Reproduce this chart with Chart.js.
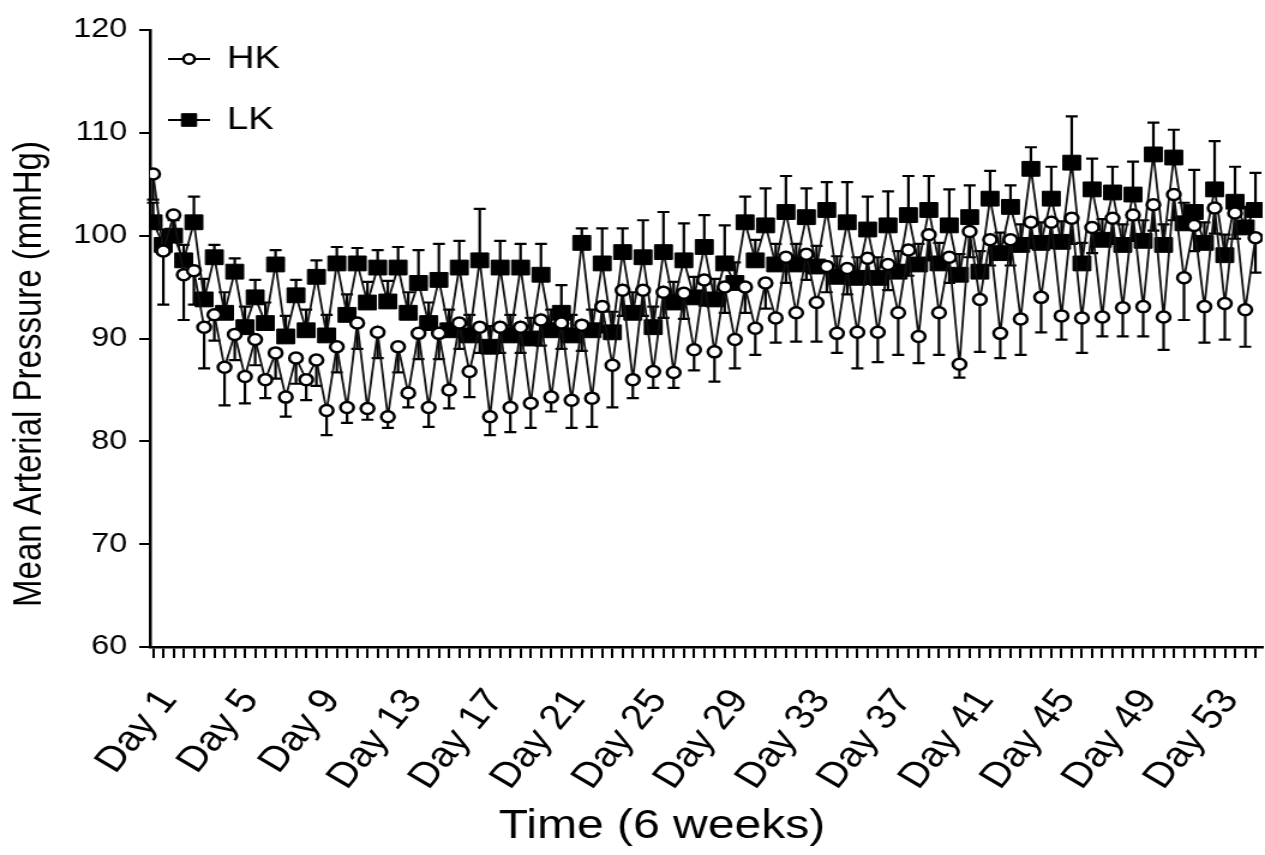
<!DOCTYPE html>
<html>
<head>
<meta charset="utf-8">
<title>Mean Arterial Pressure</title>
<script src="https://cdn.jsdelivr.net/npm/chart.js@4.4.1/dist/chart.umd.min.js"></script>
<style>
    html, body { margin: 0; padding: 0; background: #fff; }
    /* the source figure is stretched sideways, so the canvas is drawn narrow and widened by css */
    #mapChart { display: block; width: 1265px !important; height: 855px !important; }
</style>
</head>
<body>
<canvas id="mapChart" width="1054" height="855" style="width:1265px;height:855px"></canvas>
<script>
// two readings per day (dark / light phase), index 0 = Day 1
const labelDays = [1, 5, 9, 13, 17, 21, 25, 29, 33, 37, 41, 45, 49, 53];
const seriesNames = ['HK', 'LK'];
const xTitle = 'Time (6 weeks)';
const yTitle = 'Mean Arterial Pressure (mmHg)';
const yTicks = [60, 70, 80, 90, 100, 110, 120];

const hkMean = [
    106.0, 98.5, 102.0, 96.2, 96.6, 91.1, 92.3, 87.2, 90.4, 86.3,
    89.9, 86.0, 88.6, 84.3, 88.1, 86.0, 87.9, 83.0, 89.2, 83.3,
    91.5, 83.2, 90.6, 82.4, 89.2, 84.7, 90.5, 83.3, 90.5, 85.0,
    91.5, 86.8, 91.1, 82.4, 91.1, 83.3, 91.1, 83.7, 91.8, 84.3,
    91.5, 84.0, 91.3, 84.2, 93.1, 87.4, 94.7, 86.0, 94.7, 86.8,
    94.5, 86.7, 94.4, 88.9, 95.7, 88.7, 95.0, 89.9, 95.0, 91.0,
    95.4, 92.0, 97.9, 92.5, 98.2, 93.5, 97.0, 90.5, 96.8, 90.6,
    97.8, 90.6, 97.2, 92.5, 98.6, 90.2, 100.1, 92.5, 97.9, 87.5,
    100.4, 93.8, 99.6, 90.5, 99.6, 91.9, 101.3, 94.0, 101.3, 92.2,
    101.7, 92.0, 100.8, 92.1, 101.7, 93.0, 102.0, 93.1, 103.0, 92.1,
    104.0, 95.9, 101.0, 93.1, 102.7, 93.4, 102.2, 92.8, 99.8
];
const hkSem = [
    2.5, 5.2, 2.5, 4.4, 3.3, 4.0, 2.5, 3.7, 2.5, 2.6,
    2.5, 1.8, 2.5, 1.9, 2.5, 2.0, 2.5, 2.4, 2.5, 1.5,
    2.5, 1.1, 2.5, 1.1, 2.5, 1.4, 2.5, 1.9, 2.5, 1.8,
    2.5, 2.5, 2.5, 1.8, 2.5, 2.4, 2.5, 2.4, 2.5, 1.4,
    2.5, 2.7, 2.5, 2.8, 2.5, 4.1, 2.5, 1.8, 2.5, 1.6,
    2.5, 1.5, 2.5, 2.0, 2.5, 2.9, 2.5, 2.8, 2.5, 2.6,
    2.5, 2.4, 2.5, 2.8, 2.5, 3.8, 2.5, 1.9, 2.5, 3.5,
    2.5, 2.9, 2.5, 4.1, 2.5, 2.6, 2.5, 4.1, 2.5, 1.3,
    2.5, 5.1, 2.5, 2.4, 2.5, 3.5, 2.5, 3.4, 2.5, 2.3,
    2.5, 3.4, 2.5, 1.9, 2.5, 2.8, 2.5, 2.9, 2.5, 3.2,
    2.5, 4.1, 2.5, 3.5, 2.5, 3.5, 2.5, 3.6, 3.4
];
const lkMean = [
    101.3, 99.1, 100.0, 97.6, 101.3, 93.8, 97.9, 92.5, 96.5, 91.1,
    94.0, 91.5, 97.2, 90.2, 94.2, 90.8, 96.0, 90.3, 97.3, 92.3,
    97.3, 93.5, 96.9, 93.6, 96.9, 92.5, 95.4, 91.5, 95.7, 90.8,
    96.9, 90.3, 97.6, 89.2, 96.9, 90.3, 96.9, 90.0, 96.2, 90.8,
    92.5, 90.3, 99.3, 90.8, 97.3, 90.6, 98.4, 92.5, 97.9, 91.1,
    98.4, 93.5, 97.6, 94.0, 98.9, 93.8, 97.3, 95.4, 101.3, 97.6,
    101.0, 97.2, 102.3, 97.2, 101.8, 97.0, 102.5, 96.0, 101.3, 95.9,
    100.6, 95.9, 101.0, 96.5, 102.0, 97.2, 102.5, 97.3, 101.0, 96.2,
    101.8, 96.5, 103.6, 98.3, 102.8, 99.1, 106.5, 99.3, 103.6, 99.4,
    107.1, 97.3, 104.5, 99.6, 104.2, 99.1, 104.0, 99.5, 107.9, 99.1,
    107.6, 101.2, 102.3, 99.3, 104.5, 98.1, 103.3, 100.8, 102.5
];
const lkSem = [
    1.9, 1.5, 1.5, 1.5, 2.5, 2.0, 1.2, 2.0, 1.3, 2.0,
    1.7, 2.0, 1.4, 2.0, 1.5, 2.0, 1.6, 2.0, 1.6, 2.0,
    1.5, 2.0, 1.7, 2.0, 2.0, 2.0, 3.2, 2.0, 3.5, 2.0,
    2.6, 2.0, 5.0, 2.0, 2.6, 2.0, 2.3, 2.0, 3.0, 2.0,
    2.7, 2.0, 1.4, 2.0, 3.4, 2.0, 2.3, 2.0, 3.6, 2.0,
    3.9, 2.0, 3.6, 2.0, 3.1, 2.0, 3.7, 2.0, 2.5, 2.0,
    3.6, 2.0, 3.5, 2.0, 2.8, 2.0, 2.7, 2.0, 3.9, 2.0,
    3.2, 2.0, 3.3, 2.0, 3.8, 2.0, 3.3, 2.0, 3.5, 2.0,
    3.1, 2.0, 2.7, 2.0, 2.1, 2.0, 2.1, 2.0, 3.1, 2.0,
    4.5, 2.0, 3.0, 2.0, 2.5, 2.0, 3.2, 2.0, 3.1, 2.0,
    2.7, 2.0, 4.1, 2.0, 4.7, 2.0, 3.4, 2.0, 3.6
];

const FONT = '"Liberation Sans", Arial, Helvetica, sans-serif';
Chart.defaults.font.family = FONT;
Chart.defaults.color = '#000';

// HK bars hang below the points, LK bars point up
const errorBars = {
    id: 'errorBars',
    beforeDatasetsDraw(chart) {
        const ctx = chart.ctx;
        const yScale = chart.scales.y;
        ctx.save();
        ctx.strokeStyle = '#000';
        ctx.lineWidth = 2.2;
        chart.data.datasets.forEach((ds, di) => {
            const meta = chart.getDatasetMeta(di);
            meta.data.forEach((pt, i) => {
                const end = yScale.getPixelForValue(ds.data[i].y + ds.errorSign * ds.errorValues[i]);
                ctx.beginPath();
                ctx.moveTo(pt.x, pt.y);
                ctx.lineTo(pt.x, end);
                ctx.moveTo(pt.x - 5, end);
                ctx.lineTo(pt.x + 5, end);
                ctx.stroke();
            });
        });
        ctx.restore();
    }
};

// legend sits inside the plot, top left
const cornerLegend = {
    id: 'cornerLegend',
    afterDraw(chart) {
        const ctx = chart.ctx;
        const left = chart.chartArea.left;
        const rows = [59, 120];
        chart.data.datasets.forEach((ds, i) => {
            const y = rows[i];
            ctx.save();
            ctx.strokeStyle = '#000';
            ctx.lineWidth = 2;
            ctx.beginPath();
            ctx.moveTo(left + 15, y);
            ctx.lineTo(left + 50, y);
            ctx.stroke();
            ctx.fillStyle = ds.pointBackgroundColor;
            ctx.strokeStyle = ds.pointBorderColor;
            ctx.lineWidth = ds.pointBorderWidth;
            Chart.helpers.drawPoint(ctx, {
                pointStyle: ds.pointStyle,
                radius: ds.pointRadius * 0.85,
                borderWidth: ds.pointBorderWidth,
                rotation: 0
            }, left + 32.5, y);
            ctx.fillStyle = '#000';
            ctx.font = `32px ${FONT}`;
            ctx.textAlign = 'left';
            ctx.textBaseline = 'middle';
            ctx.fillText(ds.label, left + 64, y);
            ctx.restore();
        });
    }
};

const axisTitles = {
    id: 'axisTitles',
    afterDraw(chart) {
        const {ctx, chartArea} = chart;
        ctx.save();
        ctx.fillStyle = '#000';
        ctx.textAlign = 'center';
        ctx.textBaseline = 'middle';
        ctx.font = `40px ${FONT}`;
        ctx.fillText(xTitle, (chartArea.left + chartArea.right) / 2 - 37, 827);
        ctx.translate(25, 374);
        ctx.rotate(-Math.PI / 2);
        ctx.font = `33px ${FONT}`;
        ctx.fillText(yTitle, 0, 0);
        ctx.restore();
    }
};

const toPoints = arr => arr.map((v, i) => ({ x: i, y: v }));

new Chart(document.getElementById('mapChart'), {
    type: 'line',
    data: {
        datasets: [
            {
                label: seriesNames[0],
                data: toPoints(hkMean),
                errorValues: hkSem,
                errorSign: -1,
                borderColor: '#111',
                borderWidth: 1.8,
                pointStyle: 'circle',
                pointRadius: 5.5,
                pointBorderWidth: 2.5,
                pointBackgroundColor: '#fff',
                pointBorderColor: '#000',
                tension: 0
            },
            {
                label: seriesNames[1],
                data: toPoints(lkMean),
                errorValues: lkSem,
                errorSign: 1,
                borderColor: '#111',
                borderWidth: 1.8,
                pointStyle: 'rect',
                pointRadius: 10.5,
                pointBorderWidth: 1,
                pointBackgroundColor: '#000',
                pointBorderColor: '#000',
                tension: 0
            }
        ]
    },
    options: {
        responsive: false,
        animation: false,
        devicePixelRatio: 1,
        layout: { autoPadding: false, padding: { top: 30, right: 2, bottom: 0, left: 0 } },
        plugins: {
            legend: { display: false },
            tooltip: { enabled: false }
        },
        scales: {
            x: {
                type: 'linear',
                min: -0.3,
                max: hkMean.length - 0.3,
                afterBuildTicks: scale => {
                    scale.ticks = hkMean.map((_, i) => ({ value: i }));
                },
                afterFit: scale => {
                    scale.height = 208;
                    scale.paddingLeft = 0;
                    scale.paddingRight = 0;
                },
                ticks: {
                    autoSkip: false,
                    minRotation: 55,
                    maxRotation: 55,
                    padding: 24,
                    labelOffset: 13,
                    font: { size: 35 },
                    color: '#000',
                    callback: value => {
                        const day = value / 2 + 1;
                        return labelDays.includes(day) ? 'Day ' + day : '';
                    }
                },
                grid: { drawOnChartArea: false, drawTicks: true, tickLength: 11, color: '#000', lineWidth: 2 },
                border: { display: true, color: '#000', width: 2.5 }
            },
            y: {
                min: yTicks[0],
                max: yTicks[yTicks.length - 1],
                afterFit: scale => { scale.width = 125; },
                ticks: { stepSize: 10, padding: 10, font: { size: 27 }, color: '#000' },
                grid: { drawOnChartArea: false, drawTicks: true, tickLength: 9, color: '#000', lineWidth: 2 },
                border: { display: true, color: '#000', width: 2.5 }
            }
        }
    },
    plugins: [errorBars, cornerLegend, axisTitles]
});
</script>
</body>
</html>
